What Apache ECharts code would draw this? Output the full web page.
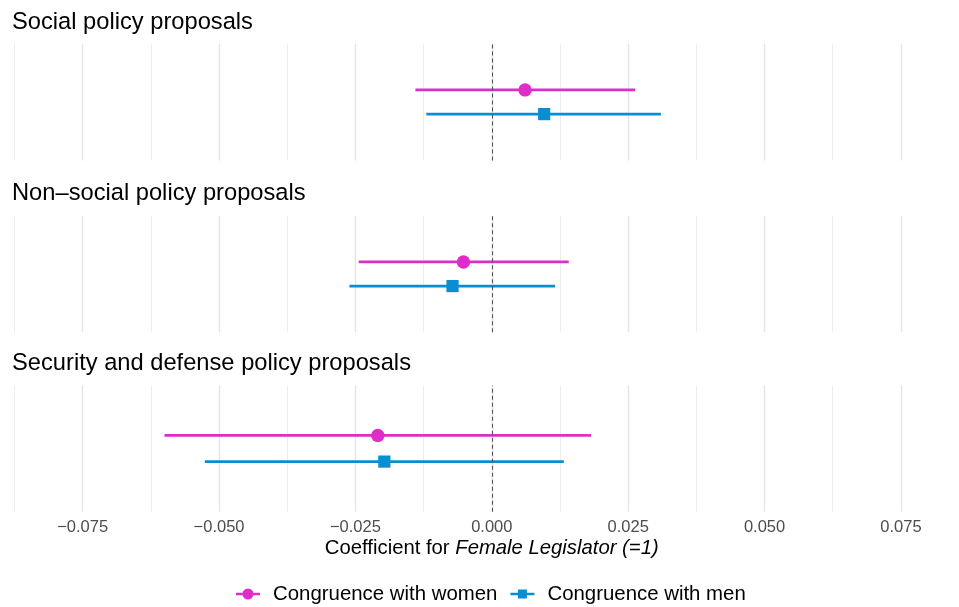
<!DOCTYPE html>
<html>
<head>
<meta charset="utf-8">
<script src="https://cdn.jsdelivr.net/npm/echarts@6/dist/echarts.min.js"></script>
<style>
  html, body { margin: 0; padding: 0; background: #ffffff; }
  #chart { width: 959px; height: 607px; }
</style>
</head>
<body>
<div id="chart"></div>
<script>
// Estimates with 95% confidence bounds, one entry per policy domain
const panels = ['Social policy proposals', 'Non\u2013social policy proposals', 'Security and defense policy proposals'];
const seriesNames = ['Congruence with women', 'Congruence with men'];
const womenEst = [0.0061, -0.0052, -0.0209];
const womenLow = [-0.0140, -0.0244, -0.0600];
const womenHigh = [0.0263, 0.0141, 0.0182];
const menEst = [0.0096, -0.0072, -0.0197];
const menLow = [-0.0120, -0.0261, -0.0526];
const menHigh = [0.0310, 0.0116, 0.0132];
const xTickLabels = [-0.075, -0.05, -0.025, 0, 0.025, 0.05, 0.075];

const FONT = '"Liberation Sans", Arial, Helvetica, sans-serif';
const colors = ['#DE2DC9', '#0A8ED0'];
const dodge = [0.207, -0.207];       // vertical offset of each group inside a panel
const panelTops = [43.5, 215.7, 385.3];
const panelHeights = [117, 116.6, 126.4];
const titleTops = [10, 181.3, 351.3];

function fmtTick(v) {
  const r = Math.round(v * 10000) / 10000;
  if (!xTickLabels.some(t => Math.abs(t - r) < 1e-9)) return '';
  return (r < 0 ? '\u2212' : '') + Math.abs(r).toFixed(3);
}

function renderRange(shape) {
  return function (params, api) {
    const y = api.value(3);
    const a = api.coord([api.value(0), y]);
    const b = api.coord([api.value(2), y]);
    const c = api.coord([api.value(1), y]);
    const color = api.visual('color');
    const marker = shape === 'circle'
      ? { type: 'circle', shape: { cx: c[0], cy: c[1], r: 6.7 }, style: { fill: color } }
      : { type: 'rect', shape: { x: c[0] - 6.1, y: c[1] - 6.1, width: 12.2, height: 12.2 }, style: { fill: color } };
    return {
      type: 'group',
      children: [
        { type: 'line', shape: { x1: a[0], y1: a[1], x2: b[0], y2: b[1] }, style: { stroke: color, lineWidth: 2.8 } },
        marker
      ]
    };
  };
}

const grids = [], xAxes = [], yAxes = [], titles = [], series = [];
panels.forEach((name, i) => {
  const last = i === panels.length - 1;
  titles.push({
    text: name, left: 12, top: titleTops[i], padding: 0,
    textStyle: { fontFamily: FONT, fontSize: 23.7, fontWeight: 'normal', color: '#000' }
  });
  grids.push({
    left: -53.7, right: -78.3, top: panelTops[i], height: panelHeights[i],
    containLabel: false, outerBoundsMode: 'none'
  });
  xAxes.push({
    type: 'value', gridIndex: i, min: -0.1, max: 0.1, interval: 0.025,
    axisLine: { show: false }, axisTick: { show: false },
    minorTick: { show: false, splitNumber: 2 },
    splitLine: { show: true, lineStyle: { color: '#e4e4e4', width: 1.4 } },
    minorSplitLine: { show: true, lineStyle: { color: '#ececec', width: 1 } },
    axisLabel: {
      show: last, formatter: fmtTick, margin: 7.5,
      fontFamily: FONT, fontSize: 16.5, color: '#4d4d4d'
    },
    name: last ? 'Coefficient for {i|Female Legislator (=1)}' : '',
    nameLocation: 'middle', nameGap: 27,
    nameTextStyle: {
      fontFamily: FONT, fontSize: 20.3, color: '#000',
      rich: { i: { fontFamily: FONT, fontSize: 20.3, fontStyle: 'italic', color: '#000' } }
    }
  });
  yAxes.push({ type: 'value', gridIndex: i, min: -1, max: 1, show: false, splitLine: { show: false } });

  const groups = [
    [womenLow[i], womenEst[i], womenHigh[i]],
    [menLow[i], menEst[i], menHigh[i]]
  ];
  groups.forEach((g, k) => {
    const s = {
      type: 'custom', name: seriesNames[k],
      xAxisIndex: i, yAxisIndex: i,
      color: colors[k], itemStyle: { color: colors[k] },
      renderItem: renderRange(k === 0 ? 'circle' : 'square'),
      encode: { x: [0, 1, 2], y: 3 },
      data: [[g[0], g[1], g[2], dodge[k]]],
      z: 3
    };
    if (k === 1) {
      s.markLine = {
        silent: true, symbol: 'none', label: { show: false },
        lineStyle: { color: '#555555', type: [4, 3], width: 1.1 },
        data: [{ xAxis: 0 }]
      };
    }
    series.push(s);
  });
});

const chart = echarts.init(document.getElementById('chart'), null, { renderer: 'canvas' });
chart.setOption({
  backgroundColor: '#ffffff',
  animation: false,
  title: titles,
  grid: grids,
  xAxis: xAxes,
  yAxis: yAxes,
  legend: {
    left: 236, top: 584, padding: 0,
    itemWidth: 24, itemHeight: 11, itemGap: 13,
    textStyle: { fontFamily: FONT, fontSize: 20.4, color: '#000', padding: [0, 0, 0, 8] },
    data: [
      { name: seriesNames[0], icon: 'path://M0 4.2H24V6.8H0Z M6.5 5.5A5.5 5.5 0 1 1 17.5 5.5A5.5 5.5 0 1 1 6.5 5.5Z' },
      { name: seriesNames[1], icon: 'path://M0 4.2H24V6.8H0Z M7.5 1H16.5V10H7.5Z' }
    ]
  },
  series: series
});
</script>
</body>
</html>
